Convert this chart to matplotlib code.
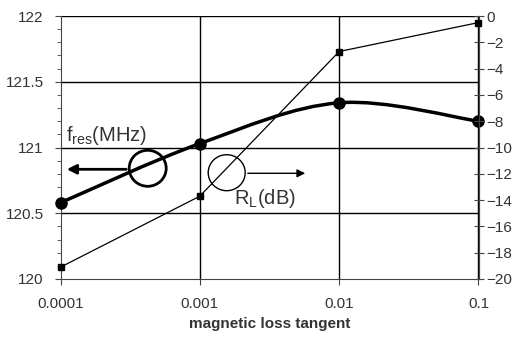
import numpy as np
import matplotlib.pyplot as plt
from matplotlib.path import Path
from matplotlib.patches import PathPatch, Ellipse
from matplotlib.ticker import FixedLocator, MultipleLocator, NullLocator, NullFormatter

plt.rcParams['font.family'] = ['Liberation Sans', 'DejaVu Sans']
plt.rcParams['mathtext.fontset'] = 'custom'
plt.rcParams['mathtext.rm'] = 'Liberation Sans'

# data
loss_tangent = [0.0001, 0.001, 0.01, 0.1]
f_res = [120.58, 121.03, 121.34, 121.20]      # MHz, left axis
r_loss = [-19.1, -13.7, -2.7, -0.5]           # dB, right axis
x_ticks = [0.0001, 0.001, 0.01, 0.1]
x_tick_labels = ['0.0001', '0.001', '0.01', '0.1']

TXT = '#333333'


def smooth_path(xs, ys):
    """Excel-style smoothed line: Catmull-Rom segments as cubic Beziers (log x)."""
    lx = np.log10(xs)
    ys = np.asarray(ys, dtype=float)
    pts = np.column_stack([lx, ys])
    ext = np.vstack([pts[0], pts, pts[-1]])
    verts = [pts[0]]
    codes = [Path.MOVETO]
    for i in range(len(pts) - 1):
        p0, p1, p2, p3 = ext[i], ext[i + 1], ext[i + 2], ext[i + 3]
        c1 = p1 + (p2 - p0) / 6
        c2 = p2 - (p3 - p1) / 6
        verts += [c1, c2, p2]
        codes += [Path.CURVE4] * 3
    verts = np.array(verts)
    verts[:, 0] = 10 ** verts[:, 0]
    return Path(verts, codes)


fig = plt.figure(figsize=(5.21, 3.38), dpi=100)
ax = fig.add_axes([60.5 / 521, 1 - 279 / 338, 418 / 521, 263 / 338])
ax2 = ax.twinx()

ax.set_xscale('log')
ax.set_xlim(0.0001, 0.1)
ax.set_ylim(120, 122)
ax2.set_ylim(-20, 0)

# grid
for xv in x_ticks[1:]:
    ax.axvline(xv, color='black', lw=1, zorder=1)
for yv in [120.5, 121, 121.5, 122]:
    ax.axhline(yv, color='black', lw=1, zorder=1)

# f_res: smoothed thick line with circles
ax.add_patch(PathPatch(smooth_path(loss_tangent, f_res), fill=False,
                       edgecolor='black', lw=2.5, zorder=3, clip_on=False))
ax.plot(loss_tangent, f_res, ls='none', marker='o', ms=8, color='black',
        zorder=4, clip_on=False)

# R_L: thin line with squares
ax2.plot(loss_tangent, r_loss, color='black', lw=0.9, marker='s', ms=5,
         zorder=4, clip_on=False)

# spines
for a in (ax, ax2):
    a.spines['top'].set_visible(False)
    a.spines['left'].set_color('#444444')
    a.spines['right'].set_color('#444444')
    a.spines['bottom'].set_color('#444444')
ax2.spines['left'].set_visible(False)
ax2.spines['bottom'].set_visible(False)

# ticks
ax.xaxis.set_major_locator(FixedLocator(x_ticks))
ax.xaxis.set_minor_locator(NullLocator())
ax.xaxis.set_minor_formatter(NullFormatter())
ax.set_xticklabels(x_tick_labels)
ax.tick_params(axis='x', direction='out', length=4, color='#444444',
               labelsize=11, labelcolor=TXT, pad=9)
ax.set_yticks([120, 120.5, 121, 121.5, 122])
ax.set_yticklabels(['120', '120.5', '121', '121.5', '122'])
ax.yaxis.set_minor_locator(MultipleLocator(0.1))
ax.tick_params(axis='y', which='major', direction='out', length=4,
               color='#444444', labelsize=11, labelcolor=TXT, pad=8)
ax.tick_params(axis='y', which='minor', direction='out', length=3,
               color='#444444')

ax2.yaxis.set_major_locator(MultipleLocator(2))
ax2.tick_params(axis='y', direction='inout', length=7, color='#444444',
                labelsize=11, labelcolor=TXT, pad=2)

ax.set_xlabel('magnetic loss tangent', fontsize=11, fontweight='bold',
              color=TXT, labelpad=4)

# annotations
ax.text(0.00011, 121.05, r'f$_{\mathrm{res}}$(MHz)', fontsize=14.5,
        color=TXT, ha='left', va='baseline', zorder=5)
ax2.text(0.00175, -14.3, r'R$_{\mathrm{L}}$(dB)', fontsize=14.5,
         color=TXT, ha='left', va='baseline', zorder=5)

fig.patches.append(Ellipse((147.7, 338 - 168.3), 37, 36, transform=None,
                           fill=False, edgecolor='black', lw=2))
fig.patches.append(Ellipse((226.7, 338 - 172.7), 37, 36, transform=None,
                           fill=False, edgecolor='black', lw=1))
for p in fig.patches:
    p.set_figure(fig)

ax.annotate('', xy=(64, 338 - 169.3), xytext=(129, 338 - 169.3),
            xycoords='figure pixels', textcoords='figure pixels',
            arrowprops=dict(arrowstyle='-|>', color='black', lw=2,
                            mutation_scale=14))
ax.annotate('', xy=(308, 338 - 173.3), xytext=(245, 338 - 173.3),
            xycoords='figure pixels', textcoords='figure pixels',
            arrowprops=dict(arrowstyle='-|>', color='black', lw=1,
                            mutation_scale=12))

fig.savefig('out.png', dpi=100, facecolor='white')
